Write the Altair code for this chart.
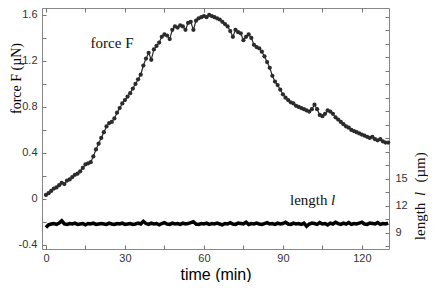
import altair as alt
import pandas as pd

# ---- data ----
force_uN = [
    0.035, 0.05, 0.07, 0.09, 0.10, 0.12, 0.14, 0.13, 0.16, 0.17,
    0.19, 0.21, 0.22, 0.24, 0.27, 0.30, 0.31, 0.32, 0.37, 0.43,
    0.48, 0.53, 0.58, 0.63, 0.66, 0.67, 0.70, 0.75, 0.79, 0.83,
    0.86, 0.89, 0.92, 0.96, 1.00, 1.04, 1.08, 1.16, 1.22, 1.27,
    1.21, 1.30, 1.33, 1.36, 1.41, 1.43, 1.42, 1.39, 1.47, 1.50,
    1.49, 1.51, 1.50, 1.47, 1.53, 1.54, 1.47, 1.55, 1.57, 1.58,
    1.59, 1.58, 1.60, 1.59, 1.58, 1.57, 1.56, 1.54, 1.52, 1.50,
    1.46, 1.41, 1.47, 1.45, 1.44, 1.38, 1.41, 1.43, 1.40, 1.34,
    1.32, 1.31, 1.28, 1.24, 1.19, 1.14, 1.07, 1.02, 0.99, 0.95,
    0.91, 0.88, 0.86, 0.84, 0.83, 0.81, 0.80, 0.79, 0.78, 0.77,
    0.76, 0.78, 0.82, 0.78, 0.73, 0.72, 0.74, 0.77, 0.76, 0.74,
    0.71, 0.69, 0.67, 0.65, 0.63, 0.62, 0.60, 0.59, 0.58, 0.57,
    0.56, 0.55, 0.54, 0.53, 0.54, 0.52, 0.51, 0.52, 0.50, 0.49,
    0.49,
]
length_um = [
    9.6, 9.9, 10.0, 10.05, 9.95, 10.1, 10.35, 10.0, 9.95, 10.05,
    10.0, 10.1, 9.95, 10.0, 10.05, 9.9, 10.05, 10.0, 10.1, 9.95,
    10.0, 10.05, 10.0, 9.95, 10.1, 10.0, 9.95, 10.05, 10.0, 10.1,
    9.95, 10.0, 10.05, 9.95, 10.0, 10.1, 10.0, 10.3, 10.05, 9.95,
    10.1, 10.0, 10.05, 9.9, 10.05, 10.15, 10.0, 9.95, 10.1, 10.0,
    10.05, 9.95, 10.1, 10.0, 10.05, 10.15, 10.25, 10.0, 9.95, 10.05,
    10.0, 10.1, 9.95, 10.05, 10.0, 10.1, 10.0, 9.9, 10.05, 10.0,
    10.15, 10.0, 9.95, 10.1, 10.05, 10.0, 10.2, 9.95, 10.05, 10.0,
    10.1, 10.0, 9.95, 10.05, 10.15, 10.0, 10.05, 9.95, 10.1, 10.0,
    10.05, 10.2, 10.0, 9.95, 10.1, 10.0, 10.05, 9.95, 10.1, 9.75,
    10.0, 10.1, 10.05, 9.95, 10.15, 10.0, 10.05, 9.9, 10.1, 10.0,
    10.2, 10.05, 9.95, 10.1, 10.0, 10.15, 9.95, 10.05, 10.0, 10.1,
    10.2, 10.0, 9.95, 10.1, 10.05, 10.0, 10.15, 9.95, 10.05, 10.0,
    10.1,
]
time_min = list(range(len(force_uN)))
time_len = list(range(len(length_um)))

x_ticks = [0, 15, 30, 45, 60, 75, 90, 105, 120]
f_ticks = [-0.4, -0.2, 0, 0.2, 0.4, 0.6, 0.8, 1.0, 1.2, 1.4, 1.6]
l_ticks = [7.5, 9, 10.5, 12, 13.5, 15, 16.5, 18, 19.5, 21, 22.5, 24, 25.5,
           27, 28.5, 30, 31.5, 33]

# annotation texts
force_label = ["force F"]
length_word = ["length"]
length_sym = ["l"]
unit_text = ["(µm)"]

df_f = pd.DataFrame({"t": time_min, "F": force_uN})
df_l = pd.DataFrame({"t": time_len, "L": length_um})

X_DOM = [-1.5, 130.3]
F_DOM = [-0.435, 1.66]
L_DOM = [7.22, 34.0]

SANS = "Liberation Sans"
SERIF = "Liberation Serif"
TICK = "#777777"
LAB = "#333333"

common_axis = dict(domain=False, grid=False, tickSize=4, offset=-4,
                   tickColor=TICK, labelColor=LAB, labelFont=SANS,
                   labelFontSize=11)

x_bottom = alt.Axis(orient="bottom", values=x_ticks, title="time (min)",
                    titleFont=SANS, titleFontSize=16, titleFontWeight="normal",
                    titleColor="#000000", titlePadding=3, labelPadding=3,
                    labelExpr="datum.value % 30 == 0 ? datum.label : ''",
                    **common_axis)
x_top = alt.Axis(orient="top", values=x_ticks, labels=False, title=None,
                 **common_axis)
y_left = alt.Axis(orient="left", values=f_ticks, title="force F  (µN)",
                  titleFont=SERIF, titleFontSize=14, titleFontWeight="normal",
                  titleColor="#000000", titleX=-26, titleY=70,
                  titleAngle=270, titleBaseline="alphabetic",
                  titleAlign="center", labelPadding=5,
                  labelExpr="indexof([-0.4,0,0.4,0.8,1.2,1.6], datum.value) >= 0 ? '' + datum.value : ''",
                  **common_axis)
y_right = alt.Axis(orient="right", values=l_ticks, title=None,
                   labelPadding=6,
                   labelExpr="indexof([9,12,15], datum.value) >= 0 ? datum.label : ''",
                   **common_axis)


def sx():
    return alt.Scale(domain=X_DOM, nice=False, zero=False)


def text_layer(tvals, vals, texts, dom, italic=False, angle=None,
               align="left", baseline="alphabetic"):
    props = dict(font=SERIF, fontSize=15, color="#111111", align=align,
                 baseline=baseline)
    if italic:
        props["fontStyle"] = "italic"
    if angle is not None:
        props["angle"] = angle
    d = pd.DataFrame({"t": tvals, "v": vals, "s": texts})
    return alt.Chart(d).mark_text(**props).encode(
        x=alt.X("t:Q", scale=sx(), axis=None),
        y=alt.Y("v:Q", scale=alt.Scale(domain=dom, nice=False, zero=False), axis=None),
        text="s:N",
    )


f_line = alt.Chart(df_f).mark_line(
    color="#2b2b2b", strokeWidth=1.2,
    point=alt.OverlayMarkDef(filled=True, size=18, color="#2b2b2b", opacity=1),
).encode(
    x=alt.X("t:Q", scale=sx(), axis=x_bottom),
    y=alt.Y("F:Q", scale=alt.Scale(domain=F_DOM, nice=False, zero=False), axis=y_left),
)

l_line = alt.Chart(df_l).mark_line(color="#000000", strokeWidth=3.5).encode(
    x=alt.X("t:Q", scale=sx(), axis=x_top),
    y=alt.Y("L:Q", scale=alt.Scale(domain=L_DOM, nice=False, zero=False), axis=y_right),
)

f_txt = text_layer([25.1], [1.357], force_label, F_DOM, align="center",
                   baseline="middle")
l_txt1 = text_layer([92.7], [12.1], length_word, L_DOM)
l_txt2 = text_layer([108.3], [12.1], length_sym, L_DOM, italic=True)
r_t1 = text_layer([144.0], [8.2], length_word, L_DOM, angle=270)
r_t2 = text_layer([144.0], [13.1], length_sym, L_DOM, italic=True, angle=270)
r_t3 = text_layer([144.0], [14.6], unit_text, L_DOM, angle=270)

chart = alt.layer(
    f_line, l_line, f_txt, l_txt1, l_txt2, r_t1, r_t2, r_t3
).resolve_scale(
    x="independent", y="independent"
).properties(
    width=347, height=241,
    padding={"left": 34, "top": 0, "right": 39, "bottom": 33},
    autosize=alt.AutoSizeParams(type="none"),
    background="white",
).configure_view(stroke="#888888", strokeWidth=1)

chart.save("out.html", embed_options={"renderer": "svg", "actions": False})
